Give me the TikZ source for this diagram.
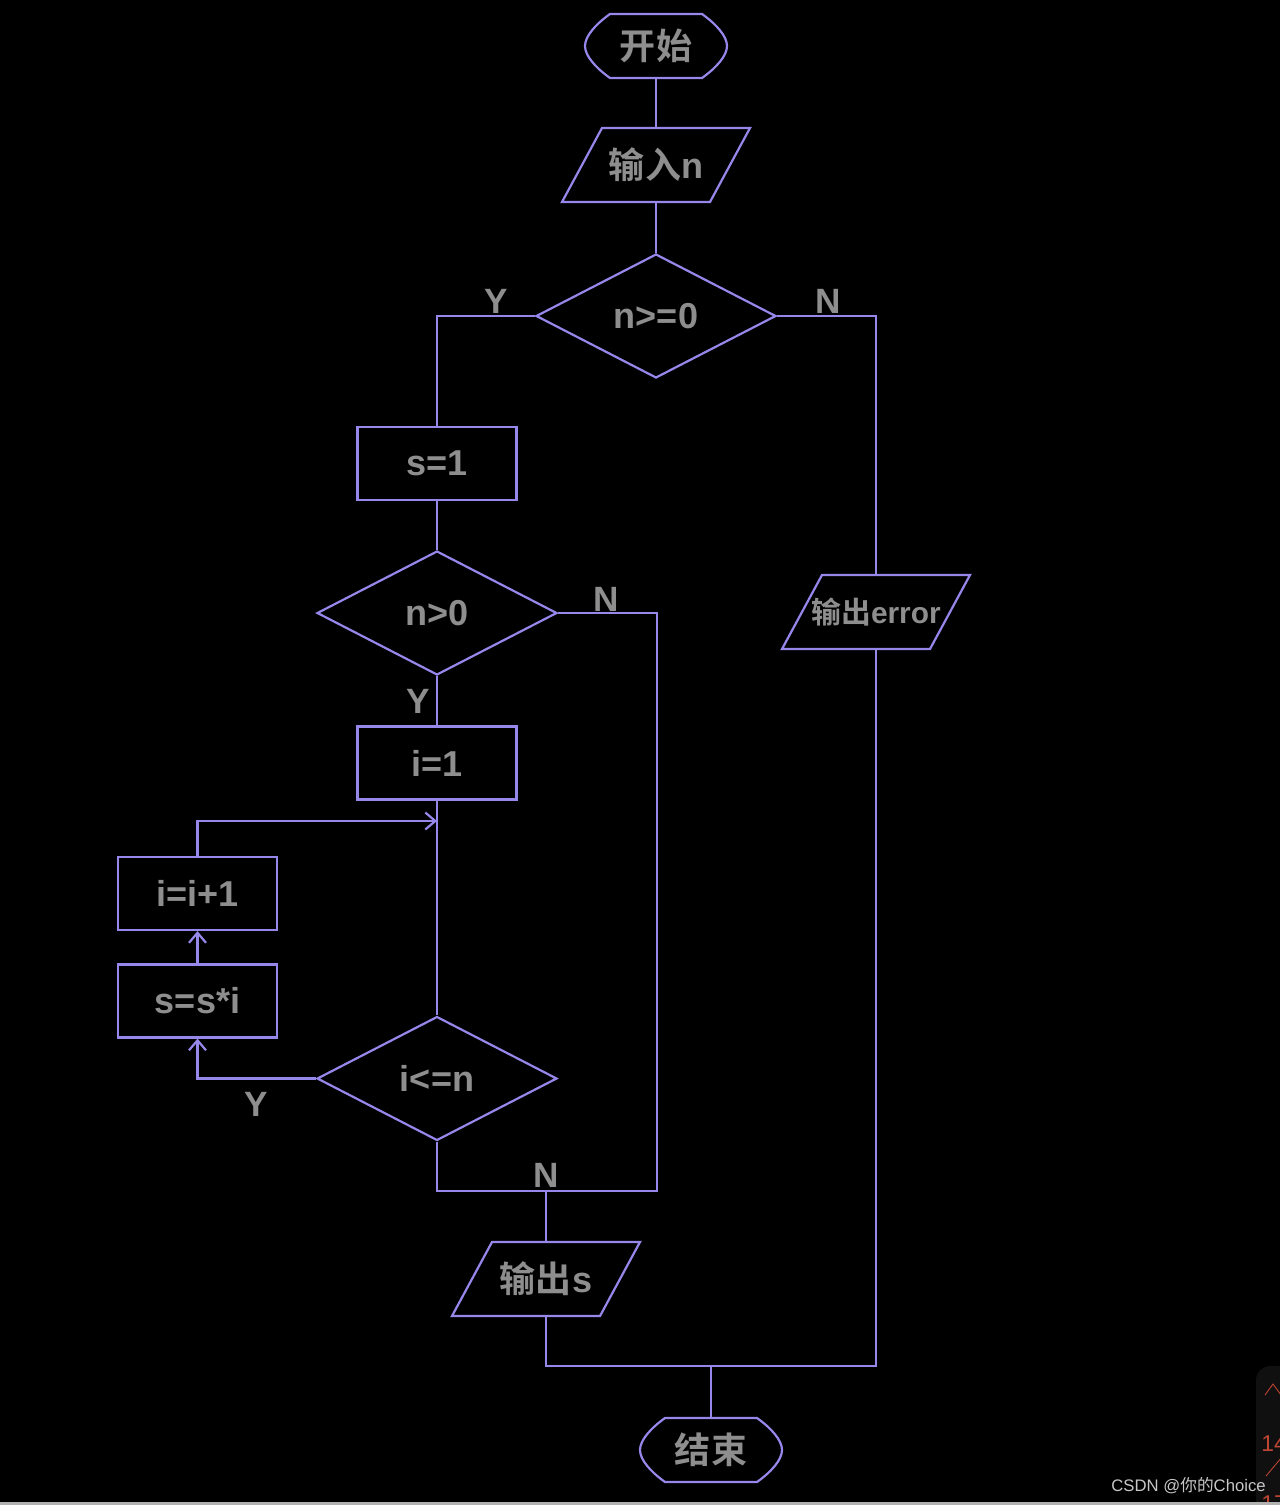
\documentclass[tikz,border=0pt]{standalone}
\usepackage{fontspec}
\setmainfont{Liberation Sans}
\newfontfamily\cjk{Noto Sans CJK SC}[BoldFont={Noto Sans CJK SC Bold}]
\usetikzlibrary{shapes.geometric,arrows.meta,calc}
\definecolor{ln}{RGB}{150,135,235}
\definecolor{tx}{RGB}{142,142,142}
\definecolor{wm}{RGB}{200,200,200}
\definecolor{rd}{RGB}{190,70,50}
\definecolor{panel}{RGB}{16,16,16}
\tikzset{
  conn/.style={draw=ln, line width=1.25pt},
  arr/.style={conn, -{Straight Barb[length=2mm,width=3.4mm]}},
  txt/.style={text=tx, font=\fontsize{20.5}{24}\selectfont\bfseries, inner sep=0pt},
  procbox/.style={txt, draw=ln, line width=1.25pt, minimum width=3.18cm, minimum height=1.46cm},
  decide/.style={txt, diamond, draw=ln, line width=1.25pt, minimum width=4.8cm, minimum height=2.48cm, aspect=2},
  term/.style={txt, minimum width=2.84cm, minimum height=1.28cm},
  iobox/.style={txt, minimum width=2.96cm, minimum height=1.48cm},
  yn/.style={text=tx, font=\fontsize{20}{24}\selectfont\bfseries, inner sep=0pt},
}
\newcommand\myterm[1]{\draw[conn] ($(#1.center)+(-46,-32)$) -- ($(#1.center)+(46,-32)$)
  .. controls ($(#1.center)+(60,-22)$) and ($(#1.center)+(71,-10)$) .. ($(#1.center)+(71,0)$)
  .. controls ($(#1.center)+(71,10)$) and ($(#1.center)+(60,22)$) .. ($(#1.center)+(46,32)$)
  -- ($(#1.center)+(-46,32)$)
  .. controls ($(#1.center)+(-60,22)$) and ($(#1.center)+(-71,10)$) .. ($(#1.center)+(-71,0)$)
  .. controls ($(#1.center)+(-71,-10)$) and ($(#1.center)+(-60,-22)$) .. ($(#1.center)+(-46,-32)$) -- cycle;}
\newcommand\mypara[1]{\draw[conn] ($(#1.center)+(-54,-37)$) -- ($(#1.center)+(94,-37)$)
  -- ($(#1.center)+(54,37)$) -- ($(#1.center)+(-94,37)$) -- cycle;}
\begin{document}
\begin{tikzpicture}[x=0.02cm, y=-0.02cm]
\useasboundingbox (0,0) rectangle (1280,1505);
\fill[black] (0,0) rectangle (1280,1505);

% nodes
\node[term] (start) at (656,46) {{\cjk 开始}};
\node[iobox] (inp) at (656,165) {{\cjk 输入}n};
\node[decide] (d1) at (656,316) {n>=0};
\node[procbox] (s1) at (437,463.5) {s=1};
\node[decide] (d2) at (437,613) {n>0};
\node[procbox] (i1) at (437,763) {i=1};
\node[procbox] (ii) at (197.5,893.5) {i=i+1};
\node[procbox] (ss) at (197.5,1001) {s=s*i};
\node[decide] (d3) at (437,1078.5) {i<=n};
\node[iobox] (outs) at (546,1279) {{\cjk 输出}s};
\node[iobox, font=\fontsize{17}{20}\selectfont\bfseries] (err) at (876,612) {{\cjk 输出}error};
\node[term] (endn) at (711,1450) {{\cjk 结束}};

\myterm{start}
\myterm{endn}
\mypara{inp}
\mypara{outs}
\mypara{err}

% junction coordinates
\coordinate (m1) at (657,1191);
\coordinate (m3) at (711,1366);
\coordinate (lp) at (437,821);

% connectors
\draw[conn] (start.south) -- (inp.north);
\draw[conn] (inp.south) -- (d1.north);
\draw[conn] (d1.west) -| (s1.north);
\draw[conn] (d1.east) -| (err.north);
\draw[conn] (s1.south) -- (d2.north);
\draw[conn] (d2.south) -- (i1.north);
\draw[conn] (d2.east) -| (m1) -- (d3.south |- m1) -- (d3.south);
\draw[conn] (i1.south) -- (d3.north);
\draw[arr] (d3.west) -| (ss.south);
\draw[arr] (ss.north) -- (ii.south);
\draw[arr] (ii.north) |- (lp);
\draw[conn] (outs.north) -- (outs.north |- m1);
\draw[conn] (outs.south) |- (err.south |- m3) -- (err.south);
\draw[conn] (endn.north) -- (m3);

% labels
\node[yn] (lY1) at (496,301) {Y};
\node[yn] (lN1) at (828,301) {N};
\node[yn] (lN2) at (606,599) {N};
\node[yn] (lY2) at (418,701) {Y};
\node[yn] (lY3) at (256,1104) {Y};
\node[yn] (lN3) at (546,1175) {N};

% right edge fragment
\begin{scope}
\clip (1250,1360) rectangle (1280,1502);
\fill[panel, rounded corners=8] (1256,1366) rectangle (1300,1520);
\draw[rd, line width=0.5pt] (1265,1395) -- (1273,1384) -- (1281,1395);
\node[text=rd, font=\fontsize{13}{15}\selectfont, inner sep=0pt, anchor=west] (r14) at (1261,1444) {14};
\draw[rd, line width=0.5pt] (1266,1476) -- (1282,1457);
\node[text=rd, font=\fontsize{13}{15}\selectfont, inner sep=0pt, anchor=west] (r17) at (1261,1504) {17};
\end{scope}

% watermark
\node[text=wm, font=\fontsize{9.5}{11}\selectfont, inner sep=0pt, anchor=east] (wmk) at (1266,1486) {CSDN @{\cjk 你的}Choice};

\fill[gray!60] (0,1502) rectangle (1280,1505);
\end{tikzpicture}
\end{document}
